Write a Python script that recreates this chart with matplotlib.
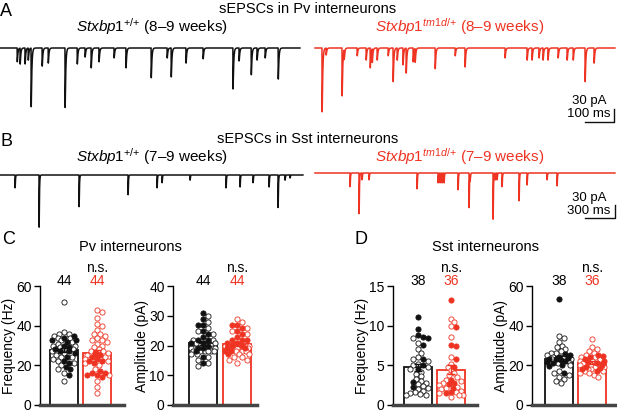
import numpy as np
import matplotlib
matplotlib.use('Agg')
import matplotlib.pyplot as plt
import matplotlib.transforms as mtransforms

plt.rcParams['font.family'] = ['Liberation Sans', 'DejaVu Sans']
plt.rcParams['mathtext.fontset'] = 'custom'
plt.rcParams['mathtext.rm'] = 'Liberation Sans'
plt.rcParams['mathtext.it'] = 'Liberation Sans:italic'

RED = '#ee3322'
BLACK = '#111111'

# ---- sEPSC events: (time ms, amplitude pA)
pv_wt_events = [(59, 32), (69, 37), (86, 37), (97, 28), (107, 136), (145, 42), (166, 35),
                (224, 138), (266, 37), (293, 21), (314, 46), (341, 32), (393, 23), (434, 46),
                (521, 69), (576, 23), (590, 67), (641, 35), (700, 25), (803, 95), (824, 30),
                (866, 62), (886, 28), (914, 23), (959, 72)]
pv_mut_events = [(24, 148), (38, 16), (93, 111), (100, 23), (145, 18), (176, 28), (190, 46),
                 (197, 32), (214, 28), (252, 18), (269, 78), (283, 28), (303, 39), (314, 58),
                 (338, 32), (345, 32), (414, 48), (483, 18), (517, 44), (655, 23), (731, 28),
                 (748, 28), (772, 23), (786, 28), (803, 28), (838, 23), (869, 28), (890, 28),
                 (931, 78), (962, 35)]
sst_wt_events = [(150, 30), (390, 122), (790, 74), (1280, 46), (1570, 30), (1620, 18),
                 (1900, 12), (2260, 30), (2400, 28), (2530, 18), (2690, 28), (2780, 76),
                 (2850, 12), (2900, 7)]
sst_mut_events = [(350, 32), (440, 95), (470, 16), (540, 16), (1020, 37), (1230, 23),
                  (1250, 23), (1270, 23), (1290, 23), (1430, 39), (1540, 81), (1550, 16),
                  (1780, 108), (1800, 16), (1820, 16), (1870, 32), (2040, 65), (2120, 28),
                  (2320, 16), (2420, 30)]

# ---- per-cell values (filled / open symbols)
pv_freq_wt_filled = [35, 34, 33, 33, 32, 30, 29, 28, 27, 27, 26, 24, 22, 21, 19, 18, 15]
pv_freq_wt_open = [52, 37, 36, 36, 35, 34, 34, 33, 32, 31, 30, 30, 29, 28, 28, 27, 26, 25,
                   24, 24, 23, 22, 21, 20, 18, 16, 12]
pv_freq_mut_filled = [26, 25, 24, 23, 22, 22, 21, 17, 16, 16, 15, 15, 14]
pv_freq_mut_open = [48, 47, 44, 41, 40, 38, 36, 36, 35, 34, 33, 33, 32, 31, 30, 29, 28, 27,
                    27, 26, 25, 24, 23, 22, 21, 20, 18, 15, 12, 9, 6]

pv_amp_wt_filled = [31, 29, 27, 27, 25, 24, 23, 22, 22, 21, 21, 20, 19, 19, 18, 16, 14]
pv_amp_wt_open = [30, 28, 26, 25, 24, 21, 21, 22, 22, 19, 19, 19, 18, 18, 18, 19, 19, 19,
                  18, 18, 18, 17, 17, 16, 15, 14, 13]
pv_amp_mut_filled = [27, 27, 26, 25, 24, 23, 22, 22, 22, 21, 21, 20, 20, 19, 19, 18, 18, 17]
pv_amp_mut_open = [29, 28, 26, 25, 24, 20, 20, 20, 19, 19, 20, 20, 20, 19, 19, 19, 18, 18,
                   18, 17, 17, 16, 16, 15, 15, 14]

sst_freq_wt_filled = [11.1, 9.6, 8.8, 8.6, 8.4, 7.6, 5.8, 5.0, 4.6, 2.9, 2.3]
sst_freq_wt_open = [8.5, 7.8, 7.0, 6.5, 6.0, 5.8, 5.5, 5.2, 5.0, 4.8, 4.5, 4.2, 3.9, 3.6,
                    3.3, 3.0, 2.8, 2.6, 2.4, 2.2, 2.0, 1.8, 1.6, 1.5, 1.4, 1.3, 1.2]
sst_freq_mut_filled = [13.2, 9.8, 7.6, 7.4, 5.8, 4.8, 3.2, 2.8, 2.6, 2.2, 1.6, 1.5]
sst_freq_mut_open = [10.9, 10.5, 10.0, 8.6, 6.0, 5.2, 4.8, 4.4, 4.0, 3.8, 3.5, 3.2, 3.0,
                     2.8, 2.5, 2.3, 2.1, 2.0, 1.8, 1.6, 1.5, 1.3, 1.2, 1.0]

sst_amp_wt_filled = [53.5, 25.5, 25, 24, 23.5, 23, 23, 22.5, 22, 21.5, 21, 20, 19.5, 16]
sst_amp_wt_open = [35, 34, 32, 30, 29, 28, 27, 26, 26, 25, 24, 23, 24, 23, 22, 21, 20, 17,
                   16, 15, 14, 13, 12, 11]
sst_amp_mut_filled = [25, 24.5, 24, 23, 22, 21.5, 21, 20, 19, 18.5, 18, 17]
sst_amp_mut_open = [33.5, 29, 28, 27, 26, 25, 24, 24, 23, 22, 22, 21, 20, 20, 19, 19, 18,
                    18, 17, 17, 16, 16, 15, 14]

W, H = 617, 412
fig = plt.figure(figsize=(W / 100, H / 100), dpi=100)


def px_axes(l, t, w, h):
    return fig.add_axes([l / W, 1 - (t + h) / H, w / W, h / H])


def ftext(x, y, s, **kw):
    kw.setdefault('ha', 'center')
    kw.setdefault('va', 'center')
    fig.text(x / W, 1 - y / H, s, **kw)


def make_trace(events, duration, dt, rise, decay):
    t = np.arange(0, duration, dt)
    y = np.zeros_like(t)
    tp = rise * decay / (decay - rise) * np.log(decay / rise)
    norm = np.exp(-tp / decay) - np.exp(-tp / rise)
    for t0, amp in events:
        s = t - t0
        m = s > 0
        y[m] -= amp * (np.exp(-s[m] / decay) - np.exp(-s[m] / rise)) / norm
    return t, y


pa_per_px = 30 / 13

# ---- row A traces
axA = px_axes(0, 35, 617, 95)
axA.axis('off')
msA = 100 / 29
axA.set_xlim(0, 617 * msA)
axA.set_ylim(-(95 - 13) * pa_per_px, 13 * pa_per_px)
t, y = make_trace(pv_wt_events, 300 * msA, 0.25, 0.3, 2.0)
axA.plot(t, y, color=BLACK, lw=1.1)
t, y = make_trace(pv_mut_events, 300 * msA, 0.25, 0.3, 2.0)
axA.plot(t + 315 * msA, y, color=RED, lw=1.1)
xr = 614 * msA
y0 = -(122 - 48) * pa_per_px
axA.plot([xr - 100, xr, xr], [y0, y0, y0 + 30], color=BLACK, lw=1)

# ---- row B traces
axB = px_axes(0, 165, 617, 70)
axB.axis('off')
msB = 10
axB.set_xlim(0, 617 * msB)
axB.set_ylim(-(70 - 10) * pa_per_px, 10 * pa_per_px)
t, y = make_trace(sst_wt_events, 303 * msB, 1.0, 0.6, 3.0)
axB.plot(t, y, color=BLACK, lw=1.1)
t, y = make_trace(sst_mut_events, 300 * msB, 1.0, 0.6, 3.0)
axB.plot(t + 315 * msB, y + 2 * pa_per_px, color=RED, lw=1.1)
xr = 615 * msB
y0 = -(218 - 175) * pa_per_px
axB.plot([xr - 300, xr, xr], [y0, y0, y0 + 30], color=BLACK, lw=1)

# ---- texts of the trace rows
wt = r'$\mathit{Stxbp1}^{\mathit{{+}{/}{+}}}$'
mut = r'$\mathit{Stxbp1}^{\mathit{tm1d{/}{+}}}$'
ftext(6, 11, 'A', fontsize=13)
ftext(308, 9, 'sEPSCs in Pv interneurons', fontsize=10.5)
ftext(152, 27, wt + ' (8–9 weeks)', fontsize=11)
ftext(460, 27, mut + ' (8–9 weeks)', fontsize=11, color=RED)
ftext(589, 101, '30 pA', fontsize=9.5)
ftext(589, 114, '100 ms', fontsize=9.5)

ftext(6, 141, 'B', fontsize=13)
ftext(308, 139, 'sEPSCs in Sst interneurons', fontsize=10.5)
ftext(152, 157, wt + ' (7–9 weeks)', fontsize=11)
ftext(460, 157, mut + ' (7–9 weeks)', fontsize=11, color=RED)
ftext(589, 198, '30 pA', fontsize=9.5)
ftext(589, 211, '300 ms', fontsize=9.5)

ftext(9, 240, 'C', fontsize=13)
ftext(130, 247, 'Pv interneurons', fontsize=10.5)
ftext(361, 240, 'D', fontsize=13)
ftext(485, 247, 'Sst interneurons', fontsize=10.5)


def swarm(vals, ypx, spread=12.0, d=4.4):
    placed = []
    xs = []
    for v in vals:
        yv = v * ypx
        best = None
        for k in range(40):
            off = ((k + 1) // 2) * 1.6 * (1 if k % 2 else -1)
            if abs(off) > spread:
                break
            if all((off - a) ** 2 + (yv - b) ** 2 >= d * d for a, b in placed):
                best = off
                break
        if best is None:
            cands = np.linspace(-spread, spread, 17)
            best = max(cands, key=lambda o: min((o - a) ** 2 + (yv - b) ** 2 for a, b in placed))
        placed.append((best, yv))
        xs.append(best)
    return np.array(xs)


TOP, HGT = 286, 119


def bar_panel(left, bc, rc, ymax, yticks, groups, ylabel, counts):
    ax = px_axes(left, TOP, 84, HGT)
    sp = rc - bc
    ax.set_xlim(-(bc - left) / sp, (left + 84 - bc) / sp)
    ax.set_ylim(0, ymax)
    ypx = HGT / ymax
    for i, (filled, opened, col) in enumerate(groups):
        allv = np.array(filled + opened, dtype=float)
        mean = allv.mean()
        sem = allv.std(ddof=1) / np.sqrt(len(allv))
        ax.bar(i, mean, width=28 / sp, facecolor='white', edgecolor=col, lw=1.3, zorder=1)
        order = np.argsort(-allv, kind='stable')
        xs = swarm(allv[order], ypx) / sp + i
        isfilled = np.array([True] * len(filled) + [False] * len(opened))[order]
        ax.scatter(xs[isfilled], allv[order][isfilled], s=14, facecolor=col,
                   edgecolor=col, lw=0.6, zorder=3, clip_on=False)
        ax.scatter(xs[~isfilled], allv[order][~isfilled], s=14, facecolor='white',
                   edgecolor=col, lw=0.6, zorder=2, clip_on=False)
        ax.errorbar(i, mean, yerr=sem, color=col, capsize=3, lw=1, capthick=1, zorder=4)
    trans = mtransforms.blended_transform_factory(ax.transData, ax.transAxes)
    ax.text(0, 1 + 5 / HGT, counts[0], transform=trans, ha='center', va='center', fontsize=10)
    ax.text(1, 1 + 5 / HGT, counts[1], transform=trans, ha='center', va='center',
            fontsize=10, color=RED)
    ax.text(1, 1 + 18 / HGT, 'n.s.', transform=trans, ha='center', va='center', fontsize=10)
    ax.set_yticks(yticks)
    ax.set_xticks([])
    ax.tick_params(axis='y', direction='out', length=4, width=1, labelsize=10, pad=2)
    for s in ('top', 'right'):
        ax.spines[s].set_visible(False)
    ax.spines['left'].set_linewidth(1)
    ax.spines['bottom'].set_linewidth(2.5)
    ax.spines['bottom'].set_color('#444444')
    ax.set_ylabel(ylabel, fontsize=10)
    ax.yaxis.set_label_coords(-24 / 84, 0.5)
    return ax


bar_panel(40, 64, 97, 60, [0, 20, 40, 60],
          [(pv_freq_wt_filled, pv_freq_wt_open, BLACK), (pv_freq_mut_filled, pv_freq_mut_open, RED)],
          'Frequency (Hz)', ('44', '44'))
bar_panel(173, 203, 237, 40, [0, 10, 20, 30, 40],
          [(pv_amp_wt_filled, pv_amp_wt_open, BLACK), (pv_amp_mut_filled, pv_amp_mut_open, RED)],
          'Amplitude (pA)', ('44', '44'))
bar_panel(393, 418, 451, 15, [0, 5, 10, 15],
          [(sst_freq_wt_filled, sst_freq_wt_open, BLACK), (sst_freq_mut_filled, sst_freq_mut_open, RED)],
          'Frequency (Hz)', ('38', '36'))
bar_panel(532, 559, 592, 60, [0, 20, 40, 60],
          [(sst_amp_wt_filled, sst_amp_wt_open, BLACK), (sst_amp_mut_filled, sst_amp_mut_open, RED)],
          'Amplitude (pA)', ('38', '36'))

fig.savefig('out.png', dpi=100)
